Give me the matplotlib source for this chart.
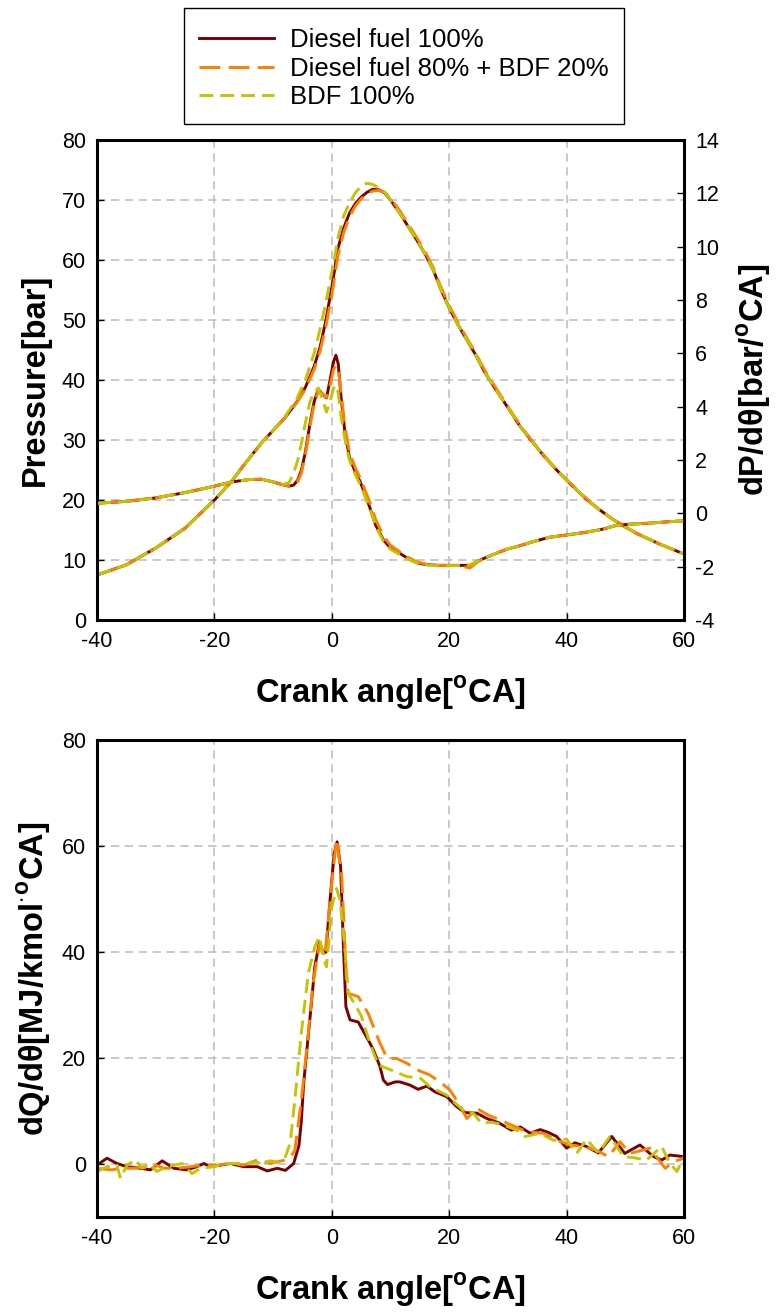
import numpy as np
import matplotlib
matplotlib.use("Agg")
import matplotlib.pyplot as plt
from matplotlib.patches import Rectangle

plt.rcParams['font.family'] = ['Liberation Sans', 'DejaVu Sans']
plt.rcParams['mathtext.fontset'] = 'custom'
plt.rcParams['mathtext.rm'] = 'Liberation Sans'
plt.rcParams['mathtext.bf'] = 'Liberation Sans:bold'
plt.rcParams['lines.scale_dashes'] = False
plt.rcParams['axes.unicode_minus'] = False

# ---- data ----
labels = ['Diesel fuel 100%', 'Diesel fuel 80% + BDF 20%', 'BDF 100%']

# cylinder pressure [bar]
ang_p = [-40, -35, -30, -25, -20, -17, -15, -12, -10, -8, -6, -4.5, -3, -2, -1,
         0, 0.5, 1, 2, 3, 4, 5, 6, 7, 8, 9, 10, 11.6, 13, 14.5, 16, 17.3, 18.5,
         20, 21.5, 23, 24.5, 26, 28, 30, 32, 34, 36, 38, 40, 42, 44, 46, 48, 50,
         52, 54, 56, 58, 60]
p_diesel = [7.5, 9.2, 12.0, 15.3, 20.0, 23.2, 25.8, 29.5, 31.6, 33.7, 36.3, 38.8, 42.3, 45.5, 50.0,
            55.5, 58.5, 61.8, 65.3, 67.8, 69.4, 70.5, 71.3, 71.8, 71.7, 71.2, 70.0, 67.8, 65.6, 63.3, 60.8, 58.3, 55.3,
            52.0, 49.2, 46.7, 44.2, 41.4, 38.3, 35.4, 32.4, 29.9, 27.5, 25.3, 23.3, 21.4, 19.6, 18.1, 16.7, 15.5,
            14.4, 13.5, 12.6, 11.8, 11.0]
p_b20 = [7.5, 9.2, 12.0, 15.3, 20.0, 23.2, 25.8, 29.5, 31.6, 33.7, 36.2, 38.5, 41.8, 44.8, 49.0,
         54.2, 57.2, 60.5, 64.5, 67.2, 69.0, 70.2, 71.0, 71.5, 71.6, 71.3, 70.3, 68.2, 66.0, 63.7, 61.2, 58.7, 55.7,
         52.4, 49.6, 47.0, 44.5, 41.7, 38.6, 35.6, 32.6, 30.0, 27.6, 25.4, 23.4, 21.5, 19.7, 18.1, 16.7, 15.5,
         14.4, 13.5, 12.6, 11.8, 11.0]
p_bdf = [7.5, 9.2, 12.0, 15.3, 20.0, 23.2, 25.8, 29.5, 31.6, 33.9, 36.8, 40.0, 44.5, 48.5, 53.0,
         58.0, 60.5, 63.5, 67.3, 69.5, 71.2, 72.3, 72.8, 72.6, 72.0, 71.3, 70.0, 67.8, 65.6, 63.3, 60.8, 58.3, 55.3,
         52.0, 49.2, 46.7, 44.2, 41.4, 38.3, 35.4, 32.4, 29.9, 27.5, 25.3, 23.3, 21.4, 19.6, 18.1, 16.7, 15.5,
         14.4, 13.5, 12.6, 11.8, 11.0]

# pressure rise rate dP/dtheta [bar/deg CA]
ang_dp = [-40, -35, -30, -25, -22, -20, -17, -14, -12, -10, -8.5, -7.3, -6.5, -5.8, -5.2,
          -4.5, -3.7, -3, -2.3, -1.5, -0.9, -0.3, 0.3, 0.7, 1.1, 1.6, 2.2, 3, 4, 4.8,
          5.7, 6.5, 7.5, 8.8, 10, 11.6, 13, 14.5, 16, 18, 20, 22, 23.5, 25, 26,
          28, 30, 31.5, 34, 37, 40, 43, 46, 48.5, 51, 54, 57, 60]
dp_diesel = [0.38, 0.45, 0.58, 0.78, 0.92, 1.02, 1.18, 1.27, 1.28, 1.18, 1.08, 1.02, 1.06, 1.25, 1.6,
             2.3, 3.4, 4.2, 4.65, 4.45, 4.33, 5.0, 5.7, 5.93, 5.6, 4.3, 3.1, 2.1, 1.55, 1.2,
             0.7, 0.2, -0.45, -1.0, -1.3, -1.5, -1.7, -1.85, -1.92, -1.95, -1.95, -1.95, -1.95, -1.78, -1.68,
             -1.5, -1.33, -1.25, -1.08, -0.9, -0.81, -0.72, -0.6, -0.45, -0.4, -0.37, -0.32, -0.28]
dp_b20 = [0.38, 0.45, 0.58, 0.78, 0.92, 1.02, 1.18, 1.27, 1.28, 1.18, 1.08, 1.02, 1.05, 1.2, 1.5,
          2.2, 3.3, 4.1, 4.6, 4.45, 4.35, 4.8, 5.4, 5.55, 5.4, 4.5, 3.3, 2.3, 1.7, 1.35,
          0.85, 0.4, -0.25, -0.85, -1.2, -1.45, -1.65, -1.82, -1.9, -1.95, -1.95, -1.97, -2.05, -1.8, -1.68,
          -1.5, -1.33, -1.25, -1.08, -0.9, -0.81, -0.72, -0.6, -0.45, -0.4, -0.37, -0.32, -0.28]
dp_bdf = [0.38, 0.45, 0.58, 0.78, 0.92, 1.02, 1.18, 1.27, 1.28, 1.18, 1.08, 1.15, 1.5, 2.0, 2.6,
          3.4, 4.2, 4.55, 4.7, 4.2, 3.8, 4.2, 4.7, 4.8, 4.5, 3.6, 2.8, 2.0, 1.45, 1.1,
          0.6, 0.15, -0.5, -1.05, -1.35, -1.55, -1.72, -1.87, -1.93, -1.97, -1.97, -1.95, -1.93, -1.78, -1.68,
          -1.5, -1.33, -1.25, -1.08, -0.9, -0.81, -0.72, -0.6, -0.45, -0.4, -0.37, -0.32, -0.28]

# heat release rate dQ/dtheta [MJ/kmol deg CA]
ang_hr_diesel = [-40, -38.3, -36.6, -34.9, -32.6, -30.9, -28.9, -26.9, -24.7, -23,
                 -21.8, -20.7, -19, -17.3, -15, -12.7, -11, -9.3, -7.9, -6.5,
                 -5.6, -5.2, -4.8, -3.7, -2.9, -2.1, -1.45, -1.0, -0.3, 0.4,
                 0.9, 1.5, 2.0, 2.4, 3.1, 4.5, 5.5, 6.5, 7.1, 8.2,
                 8.8, 9.5, 10.8, 11.6, 13.3, 14.7, 16.2, 17.6, 19.6, 21.3,
                 22.7, 24.7, 26.4, 28.4, 30.6, 32.1, 33.8, 35.5, 36.8, 38.3,
                 40, 41.4, 43.4, 45.4, 47.7, 49.9, 52.5, 54.8, 56.2, 57.6, 59.9]
hr_diesel = [-0.2, 1.1, 0.1, -0.5, -0.8, -1.1, 0.6, -0.8, -1.1, -0.5,
             0.1, -0.5, -0.2, 0.1, -0.5, -0.5, -1.3, -0.8, -1.2, 0.1,
             3.5, 8.0, 15.2, 27.8, 37.2, 41.9, 39.8, 40.0, 49.8, 58.6,
             60.8, 56.1, 40.4, 29.7, 27.2, 26.8, 24.8, 22.8, 21.5, 18.4,
             15.8, 15.0, 15.5, 15.5, 14.9, 14.1, 14.7, 13.6, 12.7, 10.8,
             9.7, 9.6, 8.6, 7.8, 6.4, 7.0, 5.8, 6.5, 6.0, 5.2,
             3.0, 4.0, 3.3, 2.1, 5.2, 2.0, 3.6, 1.4, 0.75, 1.7, 1.4]
ang_hr_b20 = [-40, -37.7, -35.5, -33.8, -32, -30.9, -30, -28.6, -26.4, -24.1,
              -21.8, -19.5, -17.3, -15, -12.4, -10.5, -8.2, -7.0, -6.3, -5.2,
              -4.0, -3.2, -2.1, -1.2, 0.0, 0.8, 1.7, 2.5, 2.8, 4.5,
              6.2, 8.2, 9.4, 11.1, 12.8, 14.7, 16.7, 18.4, 20.1, 21.6,
              23.0, 24.7, 26.7, 28.7, 30.3, 33.2, 36, 38.3, 40.6, 42.8,
              45.1, 47.1, 49.1, 50.8, 54.2, 56.8, 58.2, 60]
hr_b20 = [-0.8, -1.1, -0.8, -0.8, -0.5, -1.4, -0.2, -0.8, -0.8, -0.5,
          -0.2, -0.2, 0.1, -0.2, 0.9, 0.1, 0.7, 1.4, 2.6, 12.0,
          24.7, 34.1, 41.5, 39.1, 53.0, 61.3, 54.2, 34.5, 32.2, 31.6,
          28.4, 22.8, 20.0, 19.9, 19.0, 17.7, 16.8, 15.5, 14.0, 11.5,
          8.6, 10.5, 9.2, 8.3, 7.5, 6.1, 5.8, 4.5, 3.6, 3.3,
          2.6, 1.4, 4.2, 2.0, 3.0, -0.8, 0.45, 1.1]
ang_hr_bdf = [-40, -38.3, -36.6, -36.0, -34.9, -33.5, -32.3, -31.2, -29.8, -28.1,
              -25.5, -23.8, -22.4, -20.1, -18.4, -16.1, -14.4, -12.7, -11.9, -10.7,
              -9.3, -8.0, -7.1, -6.3, -5.2, -4.0, -2.9, -2.1, -1.45, -0.9,
              0.0, 0.8, 1.4, 2.3, 2.8, 4.0, 5.0, 6.5, 7.9, 10.2,
              12.8, 15.1, 16.7, 19.6, 21.0, 23.0, 24.1, 25.5, 27.2, 29.2,
              31.5, 32.9, 35.5, 37.7, 40, 41.7, 43.4, 45.4, 47.4, 49.7,
              51.4, 53.6, 56.2, 57.6, 58.8, 60]
hr_bdf = [-1.4, -0.5, -0.2, -2.7, -0.2, 0.8, -0.8, 0.1, -1.4, -0.5,
          0.1, -1.8, -0.8, -0.5, 0.1, 0.1, 0.1, 0.4, -0.2, 0.6,
          0.4, 1.1, 3.9, 12.1, 24.7, 36.0, 41.0, 42.9, 39.1, 37.2,
          48.5, 52.0, 49.8, 39.8, 32.2, 30.0, 28.0, 22.8, 18.7, 17.7,
          16.5, 16.2, 14.6, 13.0, 11.5, 9.6, 9.6, 7.7, 7.9, 7.4,
          6.4, 5.2, 5.8, 4.5, 4.7, 2.0, 4.7, 2.1, 5.2, 1.4,
          1.2, 0.75, 3.3, 0.1, -1.4, 1.4]

colors = ['#7a0000', '#ff8000', '#c4c400']
dashes = [None, (15, 6), (10, 5)]
lw = 2.1
tick_fs = 15.5
label_fs = 23.5
deg = r'$^{\mathbf{o}}$'


def style_lines(lines):
    for ln, d in zip(lines, dashes):
        if d is not None:
            ln.set_dashes(d)


def style_axis(ax):
    ax.grid(True, color='#c0c0c0', linestyle=(0, (6, 4)), linewidth=1.2)
    ax.set_axisbelow(True)
    for s in ax.spines.values():
        s.set_linewidth(2.2)
    ax.tick_params(direction='in', length=5, width=1, labelsize=tick_fs, pad=8)


fig = plt.figure(figsize=(7.78, 13.15), dpi=100)

# ---- top: pressure and dP/dtheta ----
ax1 = fig.add_axes([0.1247, 0.5285, 0.7545, 0.365])
ax2 = ax1.twinx()
lines = []
for y, c in zip([p_diesel, p_b20, p_bdf], colors):
    lines.append(ax1.plot(ang_p, y, color=c, lw=lw)[0])
style_lines(lines)
lines2 = []
for y, c in zip([dp_diesel, dp_b20, dp_bdf], colors):
    lines2.append(ax2.plot(ang_dp, y, color=c, lw=lw)[0])
style_lines(lines2)

ax1.set_xlim(-40, 60)
ax1.set_ylim(0, 80)
ax1.set_xticks(np.arange(-40, 61, 20))
ax1.set_yticks(np.arange(0, 81, 10))
ax2.set_ylim(-4, 14)
ax2.set_yticks(np.arange(-4, 15, 2))
style_axis(ax1)
ax2.tick_params(direction='in', length=5, width=1, labelsize=tick_fs, pad=8)
ax1.set_xlabel('Crank angle[' + deg + 'CA]', fontsize=label_fs, fontweight='bold', labelpad=16)
ax1.set_ylabel('Pressure[bar]', fontsize=label_fs, fontweight='bold', labelpad=8)
ax2.set_ylabel('dP/dθ[bar/' + deg + 'CA]', fontsize=label_fs, fontweight='bold', labelpad=12)

# ---- bottom: heat release rate ----
ax3 = fig.add_axes([0.1247, 0.0745, 0.7545, 0.3627])
lines3 = []
for x, y, c in zip([ang_hr_diesel, ang_hr_b20, ang_hr_bdf], [hr_diesel, hr_b20, hr_bdf], colors):
    lines3.append(ax3.plot(x, y, color=c, lw=lw)[0])
style_lines(lines3)
ax3.set_xlim(-40, 60)
ax3.set_ylim(-10, 80)
ax3.set_xticks(np.arange(-40, 61, 20))
ax3.set_yticks(np.arange(0, 81, 20))
style_axis(ax3)
ax3.set_xlabel('Crank angle[' + deg + 'CA]', fontsize=label_fs, fontweight='bold', labelpad=16)
ax3.set_ylabel('dQ/dθ[MJ/kmol' + r'$^{\cdot}$' + deg + 'CA]', fontsize=label_fs, fontweight='bold', labelpad=6)

# legend: box drawn separately so it can be taller than the entries need
fig.patches.append(Rectangle((184 / 778, 1 - 124 / 1315), 440 / 778, 116 / 1315,
                             transform=fig.transFigure, fill=False,
                             edgecolor='black', linewidth=1.0))
fig.legend(lines, labels, loc='center', bbox_to_anchor=(0.5195, 1 - 68.5 / 1315),
           fontsize=18.5, frameon=False, handlelength=2.9, labelspacing=0.18,
           borderpad=0.45, handletextpad=0.65, borderaxespad=0)

fig.savefig('out.png', dpi=100)
